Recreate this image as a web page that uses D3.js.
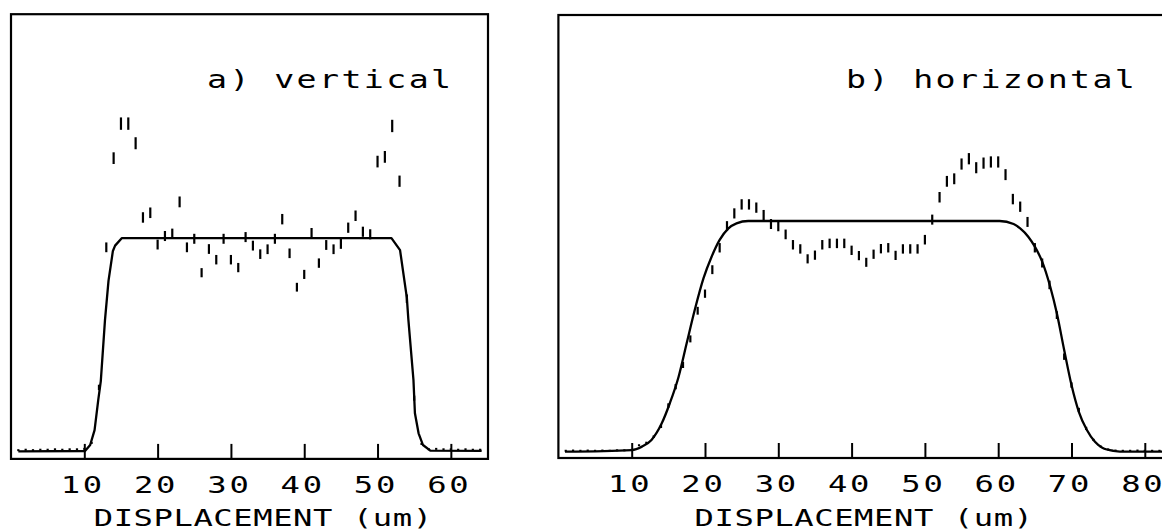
<!DOCTYPE html>
<html><head><meta charset="utf-8">
<script src="https://cdn.jsdelivr.net/npm/d3@7"></script>
<style>html,body{margin:0;padding:0;background:#fff;}svg{display:block;}</style>
</head><body>
<svg id="chart" width="1162" height="531"></svg>
<script>
// ---------------- data ----------------
const xLabel = "DISPLACEMENT (um)";
const leftTitle = "a) vertical";
const rightTitle = "b) horizontal";
const leftTicks = [10, 20, 30, 40, 50, 60];
const rightTicks = [10, 20, 30, 40, 50, 60, 70, 80];

// panel a) measured points (displacement um, normalised intensity)
const leftDataX = [1,2,3,4,5,6,7,8,9,10,11,12,13,14,15,16,17,18,19,20,21,22,23,24,25,26,27,28,29,30,31,32,33,34,35,36,37,38,39,40,41,42,43,44,45,46,47,48,49,50,51,52,53,54,55,56,57,58,59,60,61,62,63,64];
const leftDataY = [0.006,0.008,0.006,0.008,0.008,0.010,0.008,0.010,0.010,0.012,0.040,0.300,
  0.957,1.375,1.537,1.537,1.445,1.097,1.119,0.970,1.010,1.021,1.170,0.957,0.997,0.838,0.949,0.899,0.997,0.899,
  0.862,1.005,0.965,0.925,0.948,0.997,1.089,0.929,0.770,0.830,1.024,0.883,0.968,0.948,0.973,1.049,1.105,1.030,
  1.018,1.359,1.381,1.526,1.267,0.716,0.250,0.035,0.010,0.012,0.010,0.010,0.008,0.010,0.008,0.008];
// panel a) model curve
const leftFitX = [1, 10.1, 10.8, 11.4, 11.9, 12.25, 12.82, 13.3, 13.9, 14.2, 15.1, 51.9, 53.07, 54.0, 54.2, 54.9, 55.1, 55.6, 56.2, 57.2, 64.2];
const leftFitY = [0, 0.002, 0.03, 0.10, 0.241, 0.33, 0.616, 0.80, 0.94, 0.965, 1.0, 1.0, 0.944, 0.72, 0.62, 0.335, 0.179, 0.085, 0.03, 0.004, 0.003];

// panel b) measured points
const rightDataX = [1,2,3,4,5,6,7,8,9,10,11,12,13,14,15,16,17,18,19,20,21,22,23,24,25,26,27,28,29,30,31,32,33,34,35,36,37,38,39,40,41,42,43,44,45,46,47,48,49,50,51,52,53,54,55,56,57,58,59,60,61,62,63,64,65,66,67,68,69,70,71,72,73,74,75,76,77,78,79,80,81,82];
const rightDataY = [0.004,0.005,0.004,0.005,0.004,0.005,0.004,0.006,0.006,0.008,0.028,0.039,0.065,0.110,0.200,0.282,0.376,0.489,0.611,0.685,
  0.789,0.884,0.978,1.033,1.072,1.072,1.058,1.026,0.987,0.977,0.942,0.897,0.879,0.836,0.852,0.897,0.903,0.903,0.903,0.873,
  0.850,0.821,0.856,0.880,0.884,0.851,0.879,0.879,0.879,0.919,1.006,1.103,1.172,1.183,1.247,1.270,1.231,1.251,1.256,1.256,
  1.201,1.095,1.062,0.996,0.884,0.818,0.723,0.592,0.412,0.289,0.181,0.101,0.051,0.022,0.010,0.005,0.004,0.004,0.005,0.004,0.004,0.004];
// panel b) model curve
const rightFitX = [0.9, 10, 11.4, 12.7, 14.1, 15.2, 16.4, 17.5, 18.6, 19.8, 20.9, 22.0, 23.2, 24.3, 25.9, 60.2, 62.1, 63.0, 64.1, 65.0, 66.0, 67.1, 68.0, 69.0, 70.0, 71.0, 72.1, 73.2, 74.2, 75.7, 77.5, 85];
const rightFitY = [0, 0.007, 0.022, 0.051, 0.123, 0.21, 0.325, 0.47, 0.614, 0.752, 0.845, 0.918, 0.968, 0.99, 1.0, 1.0, 0.987, 0.968, 0.932, 0.889, 0.824, 0.715, 0.60, 0.441, 0.289, 0.173, 0.094, 0.043, 0.017, 0.004, 0, 0];

// ---------------- layout ----------------
const svg = d3.select("#chart");
svg.append("rect").attr("width", 1162).attr("height", 531).attr("fill", "#fff");

const FONT = "'DejaVu Sans Mono', monospace";
const SX = 1.4; // plotter-style wide lettering

const panels = [
  { xDom: [0, 65], xRange: [11, 487.5], yDom: [-0.035, 2.05], yRange: [458.9, 14.2],
    frameRight: 488, ticks: leftTicks, fitX: leftFitX, fitY: leftFitY, curve: d3.curveLinear,
    dataX: leftDataX, dataY: leftDataY, title: leftTitle, titleX: 207, labelU: 34.4 },
  { xDom: [0, 85], xRange: [558.4, 558.4 + 85 * 7.33], yDom: [-0.0273, 1.893], yRange: [458, 15],
    frameRight: 1200, ticks: rightTicks, fitX: rightFitX, fitY: rightFitY, curve: d3.curveMonotoneX,
    dataX: rightDataX, dataY: rightDataY, title: rightTitle, titleX: 846, labelU: 41.7 }
];

const barLen = d3.scaleSqrt().domain([0, 1]).range([0, 10]);

panels.forEach(p => {
  const x = d3.scaleLinear().domain(p.xDom).range(p.xRange);
  const y = d3.scaleLinear().domain(p.yDom).range(p.yRange);
  const g = svg.append("g");
  const left = p.xRange[0], top = p.yRange[1], bottom = p.yRange[0];

  // frame
  g.append("rect").attr("x", left).attr("y", top)
    .attr("width", p.frameRight - left).attr("height", bottom - top)
    .attr("fill", "none").attr("stroke", "#000").attr("stroke-width", 2.2);

  // axis ticks (inside, upward)
  const ax = g.append("g").attr("transform", `translate(0,${bottom})`)
    .call(d3.axisBottom(x).tickValues(p.ticks).tickFormat(d3.format("d"))
      .tickSizeInner(-15).tickSizeOuter(0));
  ax.select(".domain").remove();
  ax.selectAll(".tick line").attr("stroke", "#000").attr("stroke-width", 2);
  ax.selectAll(".tick text")
    .attr("y", 0).attr("dy", null)
    .attr("transform", `translate(-2,34) scale(${SX},1)`)
    .attr("font-family", FONT).attr("font-size", 23)
    .attr("letter-spacing", 2).attr("fill", "#000");

  // model curve
  const line = d3.line().x(d => x(d[0])).y(d => y(d[1])).curve(p.curve);
  g.append("path").datum(d3.zip(p.fitX, p.fitY)).attr("d", line)
    .attr("fill", "none").attr("stroke", "#000").attr("stroke-width", 2.3)
    .attr("stroke-linejoin", "round");

  // measured points as vertical error bars
  g.selectAll("line.pt").data(d3.zip(p.dataX, p.dataY)).join("line")
    .attr("class", "pt")
    .attr("x1", d => x(d[0])).attr("x2", d => x(d[0]))
    .attr("y1", d => y(d[1]) - Math.max(2, barLen(d[1])) / 2)
    .attr("y2", d => y(d[1]) + Math.max(2, barLen(d[1])) / 2)
    .attr("stroke", "#000").attr("stroke-width", 2.2);

  // title
  g.append("text").attr("transform", `translate(${p.titleX},88) scale(1.33,1)`)
    .attr("font-family", FONT).attr("font-size", 25).attr("letter-spacing", 1.8)
    .attr("fill", "#000").text(p.title);

  // x label
  g.append("text").attr("transform", `translate(${x(p.labelU)},525.5) scale(${SX},1)`)
    .attr("text-anchor", "middle")
    .attr("font-family", FONT).attr("font-size", 23).attr("letter-spacing", 0.4)
    .attr("fill", "#000").text(xLabel);
});
</script>
</body></html>
